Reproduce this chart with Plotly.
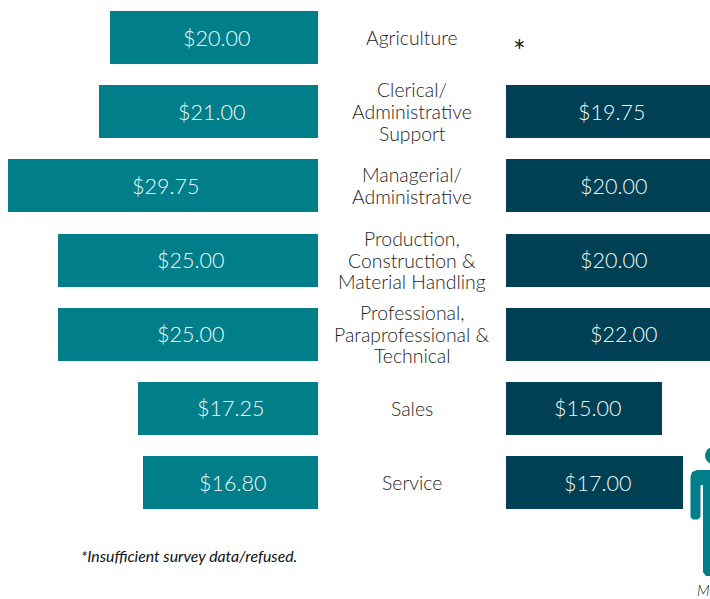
import plotly.graph_objects as go

categories = ["Agriculture", "Clerical/<br>Administrative<br>Support", "Managerial/<br>Administrative",
              "Production,<br>Construction &<br>Material Handling",
              "Professional,<br>Paraprofessional &<br>Technical", "Sales", "Service"]
left_values = [20.00, 21.00, 29.75, 25.00, 25.00, 17.25, 16.80]
right_values = [None, 19.75, 20.00, 20.00, 22.00, 15.00, 17.00]
footnote = "*Insufficient survey data/refused."

W, H = 710, 599
TEAL, NAVY = "#007F8B", "#004054"
PX_PER_UNIT = 10.42
LEFT_EDGE, RIGHT_START = 318, 506
ROW = 74.17
TOP = 37.5
LINE = 21.8
VALUE_FONT = dict(family="Lato", size=21.5, color="#F0FAFA", weight=300)
LABEL_FONT = dict(family="Lato", size=19.4, color="#1E1E1E", weight=300)

px = lambda x: x / W
py = lambda y: 1 - y / H
ys = list(range(len(categories)))

fig = go.Figure()
fig.add_bar(x=left_values, y=ys, orientation="h", width=53 / ROW, marker=dict(color=TEAL, line=dict(width=0)),
            xaxis="x", yaxis="y")
fig.add_bar(x=right_values, y=ys, orientation="h", width=53 / ROW, marker=dict(color=NAVY, line=dict(width=0)),
            xaxis="x2", yaxis="y2")

ann = []
for i, v in enumerate(left_values):
    ann.append(dict(x=v / 2, y=i, xref="x", yref="y", text=f"${v:.2f}", showarrow=False, font=VALUE_FONT, xshift=2.5))
for i, v in enumerate(right_values):
    if v is not None:
        ann.append(dict(x=v / 2, y=i, xref="x2", yref="y2", text=f"${v:.2f}", showarrow=False, font=VALUE_FONT, xshift=3))
for i, c in enumerate(categories):
    lines = c.split("<br>")
    for k, line in enumerate(lines):
        ann.append(dict(x=px(412), y=i, xref="paper", yref="y", text=line, showarrow=False, font=LABEL_FONT,
                        yshift=((len(lines) - 1) / 2 - k) * LINE))
ann.append(dict(x=px(519), y=py(50), xref="paper", yref="paper", xanchor="center", yanchor="middle", text="*",
                showarrow=False, font=dict(family="Lato", size=30, color="#222222")))
ann.append(dict(x=px(79), y=py(555), xref="paper", yref="paper", xanchor="left", yanchor="middle",
                text=f"<i>{footnote}</i>", showarrow=False, font=dict(family="Lato", size=15.8, color="#111111")))
ann.append(dict(x=px(695), y=py(590), xref="paper", yref="paper", xanchor="left", yanchor="middle", text="<i>M</i>",
                showarrow=False, font=dict(family="Lato", size=15, color="#222222", weight=300)))

def path(pts):
    return "M " + " L ".join(f"{px(x):.5f},{py(y):.5f}" for x, y in pts) + " Z"

shapes = [
    dict(type="circle", xref="paper", yref="paper", x0=px(705), x1=px(722), y0=py(447), y1=py(464),
         fillcolor=TEAL, line=dict(width=0)),
    dict(type="path", xref="paper", yref="paper", fillcolor=TEAL, line=dict(width=0),
         path=path([(710, 470), (697, 470), (692, 472), (690.5, 477), (690.5, 517), (693, 519.5), (698, 519.5),
                    (700.5, 517), (700.5, 485), (703, 485), (703, 572), (706, 576), (710, 576)])),
]

fig.update_layout(
    width=W, height=H, margin=dict(l=0, r=0, t=0, b=0), paper_bgcolor="white", plot_bgcolor="white",
    showlegend=False, bargap=0, annotations=ann, shapes=shapes,
    xaxis=dict(domain=[0, LEFT_EDGE / W], range=[LEFT_EDGE / PX_PER_UNIT, 0], visible=False),
    xaxis2=dict(domain=[RIGHT_START / W, 1], range=[0, (W - RIGHT_START) / PX_PER_UNIT], visible=False),
    yaxis=dict(domain=[0, 1], range=[(H - TOP) / ROW, -TOP / ROW], visible=False),
    yaxis2=dict(domain=[0, 1], range=[(H - TOP) / ROW, -TOP / ROW], visible=False, anchor="x2"),
)
fig.write_html("out.html", config=dict(displayModeBar=False),
               post_script="document.body.style.margin='0';document.documentElement.style.overflow='hidden';")
